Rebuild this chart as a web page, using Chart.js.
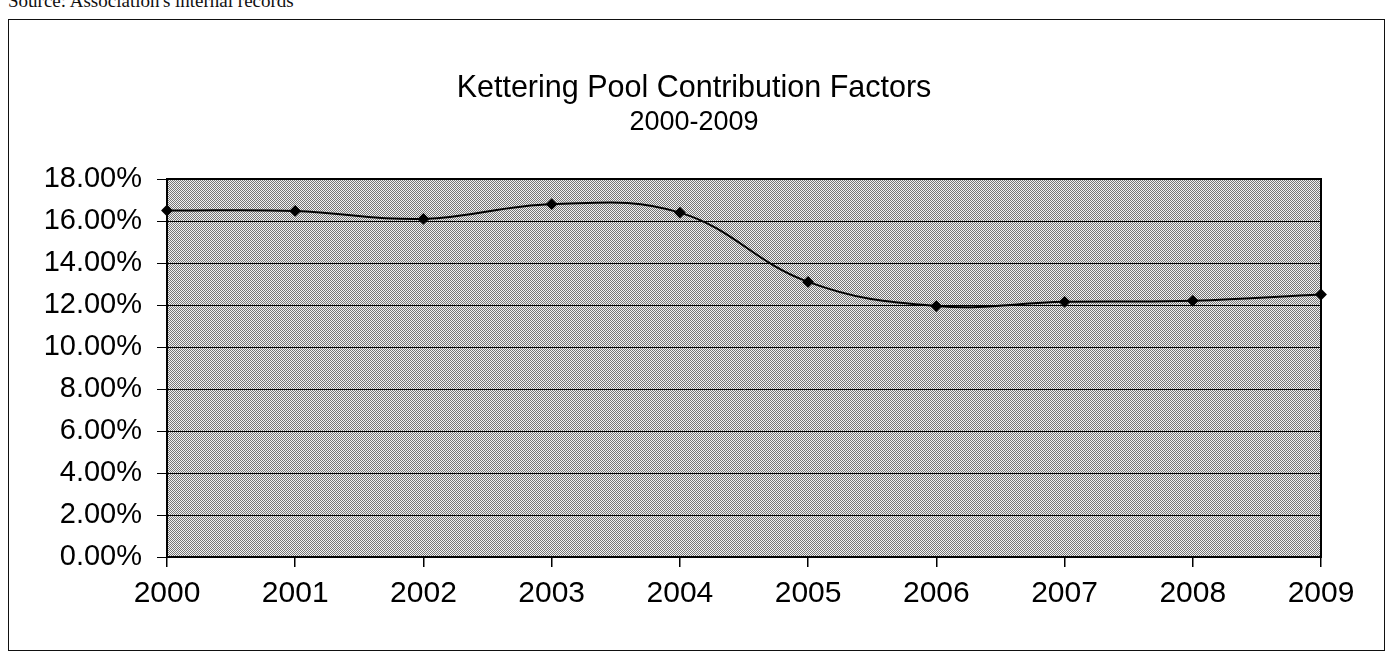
<!DOCTYPE html>
<html>
<head>
<meta charset="utf-8">
<script src="https://cdn.jsdelivr.net/npm/chart.js@4.4.1/dist/chart.umd.min.js"></script>
<style>
    body { margin: 0; background: #fff; }
    #wrap { position: relative; width: 1388px; height: 654px; overflow: hidden; }
    #source { position: absolute; left: 8px; top: -10px; font: 19px 'Liberation Serif', 'Times New Roman', serif; color: #111; }
    #frame { position: absolute; left: 8px; top: 19px; width: 1375px; height: 630px; border: 1.5px solid #111; }
    canvas { position: absolute; left: 0; top: 0; }
</style>
</head>
<body>
<div id="wrap">
    <div id="source">Source: Association's internal records</div>
    <div id="frame"></div>
    <canvas id="chart" width="1388" height="654"></canvas>
</div>
<script>
const years = ['2000', '2001', '2002', '2003', '2004', '2005', '2006', '2007', '2008', '2009'];
const factors = [16.5, 16.48, 16.1, 16.8, 16.4, 13.1, 11.95, 12.15, 12.2, 12.5];
const chartTitle = 'Kettering Pool Contribution Factors';
const chartSubtitle = '2000-2009';
const yMin = 0;
const yMax = 18;
const yStep = 2;

// halftone-like dot pattern for the plot background
const makePattern = (ctx) => {
    const tile = document.createElement('canvas');
    tile.width = 2;
    tile.height = 2;
    const t = tile.getContext('2d');
    t.fillStyle = '#f2f2f2';
    t.fillRect(0, 0, 2, 2);
    t.fillStyle = '#767676';
    t.fillRect(0, 0, 1, 1);
    t.fillRect(1, 1, 1, 1);
    return ctx.createPattern(tile, 'repeat');
};

const plotBackground = {
    id: 'plotBackground',
    beforeDraw(chart) {
        const { ctx, chartArea: a } = chart;
        ctx.save();
        ctx.fillStyle = makePattern(ctx);
        ctx.fillRect(a.left, a.top, a.right - a.left, a.bottom - a.top);
        ctx.restore();
    },
    afterDraw(chart) {
        const { ctx, chartArea: a } = chart;
        ctx.save();
        ctx.strokeStyle = '#000';
        ctx.lineWidth = 2;
        ctx.strokeRect(a.left, a.top, a.right - a.left, a.bottom - a.top);
        ctx.restore();
    }
};

const font = "'Liberation Sans', Arial, sans-serif";

new Chart(document.getElementById('chart'), {
    type: 'line',
    data: {
        labels: years,
        datasets: [{
            data: factors,
            borderColor: '#000',
            borderWidth: 2,
            backgroundColor: '#000',
            pointStyle: 'rectRot',
            pointRadius: 4.5,
            pointBackgroundColor: '#000',
            tension: 0.4,
            fill: false
        }]
    },
    options: {
        responsive: false,
        animation: false,
        layout: { padding: 0 },
        plugins: {
            legend: { display: false },
            tooltip: { enabled: false },
            title: {
                display: true,
                text: chartTitle,
                color: '#000',
                font: { family: font, size: 30.5, weight: 'normal', lineHeight: 1.2 },
                padding: { top: 70, bottom: 0 }
            },
            subtitle: {
                display: true,
                text: chartSubtitle,
                color: '#000',
                font: { family: font, size: 27, weight: 'normal', lineHeight: 1.2 },
                padding: { top: 0, bottom: 40 }
            }
        },
        scales: {
            x: {
                offset: false,
                grid: { drawOnChartArea: false, drawTicks: true, tickLength: 10, color: '#000', lineWidth: 1.5 },
                border: { color: '#000', width: 2 },
                ticks: { color: '#000', padding: 9, maxRotation: 0, font: { family: font, size: 30 } },
                afterFit(scale) { scale.height = 97; }
            },
            y: {
                min: yMin,
                max: yMax,
                grid: { color: '#000', lineWidth: 1, tickLength: 10 },
                border: { color: '#000', width: 2 },
                ticks: {
                    stepSize: yStep,
                    color: '#000',
                    padding: 15,
                    font: { family: font, size: 29 },
                    callback: (v) => v.toFixed(2) + '%'
                },
                afterFit(scale) { scale.width = 167; }
            },
            // empty right-hand axis, only reserves the blank margin right of the plot
            yRight: {
                position: 'right',
                display: true,
                grid: { display: false },
                border: { display: false },
                ticks: { display: false },
                afterFit(scale) { scale.width = 67; }
            }
        }
    },
    plugins: [plotBackground]
});
</script>
</body>
</html>
